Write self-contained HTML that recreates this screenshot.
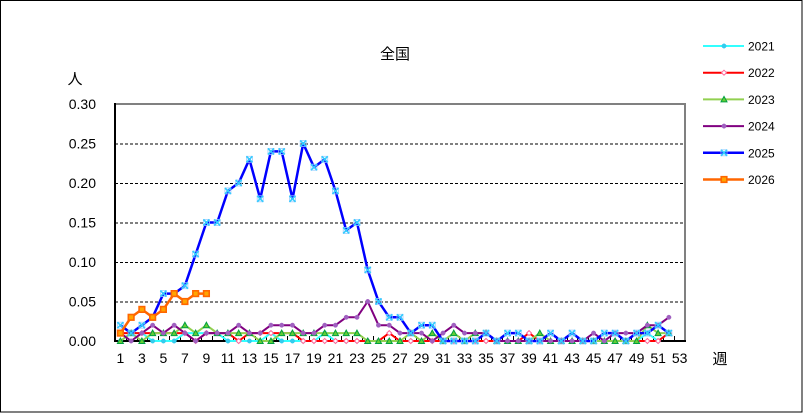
<!DOCTYPE html>
<html><head><meta charset="utf-8"><style>
html,body{margin:0;padding:0;background:#fff;}
svg{display:block;}
text{font-family:"Liberation Sans","Noto Sans CJK JP",sans-serif;fill:#000;}
</style></head><body>
<svg width="803" height="413" viewBox="0 0 803 413" xmlns="http://www.w3.org/2000/svg">
<rect x="0.5" y="0.5" width="801.5" height="411.5" fill="#fff" stroke="#000" stroke-width="1"/>
<text x="395" y="59" font-size="15" text-anchor="middle">全国</text>
<text x="75" y="84" font-size="15" text-anchor="middle">人</text>
<text x="720" y="364" font-size="15" text-anchor="middle">週</text>
<g id="grid" stroke="#000" stroke-width="1" stroke-dasharray="3,2"></g>
<g id="plot"></g>
<g id="labels" font-size="14"></g>
<g id="legend" font-size="12"></g>
</svg>
<script>
(function(){
var NS="http://www.w3.org/2000/svg";
function el(tag,attrs,parent){var e=document.createElementNS(NS,tag);for(var k in attrs)e.setAttribute(k,attrs[k]);if(parent)parent.appendChild(e);return e;}
var X0=115,X1=685,Y0=341,YT=104,step=(X1-X0)/53,sc=(Y0-YT)/0.3;
function xw(w){return X0+(w-0.5)*step;}
function yv(v){return Y0-v*sc;}
var grid=document.getElementById('grid'),plot=document.getElementById('plot'),lab=document.getElementById('labels'),leg=document.getElementById('legend');
for(var i=1;i<=5;i++){var y=yv(i*0.05)+0.5;el('line',{x1:X0,y1:y,x2:X1,y2:y},grid);}
el('line',{x1:X0-1,y1:YT,x2:X1+1,y2:YT,stroke:'#808080','stroke-width':2},plot);
el('line',{x1:X1,y1:YT,x2:X1,y2:Y0,stroke:'#808080','stroke-width':2},plot);
el('line',{x1:X0,y1:YT-1,x2:X0,y2:Y0+1,stroke:'#000','stroke-width':2},plot);
el('line',{x1:X0-1,y1:Y0,x2:X1+1,y2:Y0,stroke:'#000','stroke-width':2},plot);
for(var k=1;k<53;k++){var tx=Math.round(X0+k*step)+0.5;el('line',{x1:tx,y1:Y0,x2:tx,y2:Y0-5,stroke:'#000','stroke-width':1},plot);}
for(var i=0;i<=6;i++){var t=el('text',{x:96,y:yv(i*0.05)+5,'text-anchor':'end'},lab);t.textContent=(i*0.05).toFixed(2);}
for(var w=1;w<=53;w+=2){var t=el('text',{x:xw(w),y:363,'text-anchor':'middle'},lab);t.textContent=w;}
var series=[
{n:'2021',c:'#33FFFF',w:2,m:'circle',mc:'#33CCEE',d:[0,0.01,0.01,0,0,0,0.01,0.01,0.01,0.01,0,0,0,0,0.01,0,0,0,0,0.01,0,0,0,0,0,0,0,0,0,0,0,0,0,0,0,0,0,0,0,0,0,0,0,0,0,0,0,0,0,0.01,0,0.01]},
{n:'2022',c:'#FF0000',w:2,m:'diamond',mc:'#FF6699',d:[0.01,0.01,0.01,0.01,0.01,0.01,0.01,0,0.01,0.01,0.01,0,0.01,0.01,0.01,0.01,0.01,0,0,0,0,0,0,0,0,0.01,0,0,0,0,0,0,0,0,0,0,0,0,0.01,0,0,0,0,0,0,0,0,0,0,0,0,0.01]},
{n:'2023',c:'#92D050',w:2,m:'tri',mc:'#00A040',d:[0,0.01,0,0.01,0.01,0.01,0.02,0.01,0.02,0.01,0.01,0.01,0.01,0,0,0.01,0.01,0.01,0.01,0.01,0.01,0.01,0.01,0,0,0,0,0.01,0,0.01,0,0.01,0,0.01,0.01,0,0,0,0,0.01,0,0,0,0,0,0,0,0,0,0.02,0.01,0.01]},
{n:'2024',c:'#800080',w:2,m:'circle',mc:'#A060C0',d:[0.01,0,0.01,0.02,0.01,0.02,0.01,0,0.01,0.01,0.01,0.02,0.01,0.01,0.02,0.02,0.02,0.01,0.01,0.02,0.02,0.03,0.03,0.05,0.02,0.02,0.01,0.01,0.01,0,0.01,0.02,0.01,0.01,0.01,0,0,0,0,0,0,0,0,0,0.01,0,0.01,0.01,0.01,0.02,0.02,0.03]},
{n:'2025',c:'#0000FF',w:2.5,m:'x',mc:'#33CCFF',d:[0.02,0.01,0.02,0.03,0.06,0.06,0.07,0.11,0.15,0.15,0.19,0.20,0.23,0.18,0.24,0.24,0.18,0.25,0.22,0.23,0.19,0.14,0.15,0.09,0.05,0.03,0.03,0.01,0.02,0.02,0,0,0,0,0.01,0,0.01,0.01,0,0,0.01,0,0.01,0,0,0.01,0.01,0,0.01,0.01,0.02,0.01]},
{n:'2026',c:'#FF6600',w:2.5,m:'square',mc:'#FFA500',d:[0.01,0.03,0.04,0.03,0.04,0.06,0.05,0.06,0.06]}
];
function marker(s,x,y,g){
 if(s.m=='circle'){el('circle',{cx:x,cy:y,r:2.2,fill:s.mc,stroke:s.mc,'stroke-width':0.5},g);}
 else if(s.m=='diamond'){el('polygon',{points:(x)+','+(y-2.5)+' '+(x+2.5)+','+y+' '+x+','+(y+2.5)+' '+(x-2.5)+','+y,fill:'#fff',stroke:s.mc,'stroke-width':1},g);}
 else if(s.m=='tri'){el('polygon',{points:x+','+(y-3)+' '+(x+3)+','+(y+2.5)+' '+(x-3)+','+(y+2.5),fill:'#66CC33',stroke:s.mc,'stroke-width':1},g);}
 else if(s.m=='x'){el('rect',{x:x-3,y:y-3,width:6,height:6,fill:'none',stroke:'#99CCFF','stroke-width':0.8},g);el('path',{d:'M'+(x-3)+' '+(y-3)+'L'+(x+3)+' '+(y+3)+'M'+(x+3)+' '+(y-3)+'L'+(x-3)+' '+(y+3),stroke:s.mc,'stroke-width':1.6},g);}
 else if(s.m=='square'){el('rect',{x:x-2.8,y:y-2.8,width:5.6,height:5.6,fill:s.mc,stroke:s.c,'stroke-width':1.6},g);}
}
series.forEach(function(s){
 var g=el('g',{},plot);var pts=s.d.map(function(v,i){return xw(i+1).toFixed(1)+','+yv(v).toFixed(1);}).join(' ');
 el('polyline',{points:pts,fill:'none',stroke:s.c,'stroke-width':s.w,'stroke-linejoin':'round'},g);
 s.d.forEach(function(v,i){marker(s,xw(i+1),yv(v),g);});
});
series.forEach(function(s,i){
 var y=46+i*26.7;var g=el('g',{},leg);
 el('line',{x1:703,y1:y,x2:744,y2:y,stroke:s.c,'stroke-width':s.w},g);
 marker(s,724,y,g);
 var t=el('text',{x:748,y:y+4.5},g);t.textContent=s.n;
});
})();
</script>
</body></html>
